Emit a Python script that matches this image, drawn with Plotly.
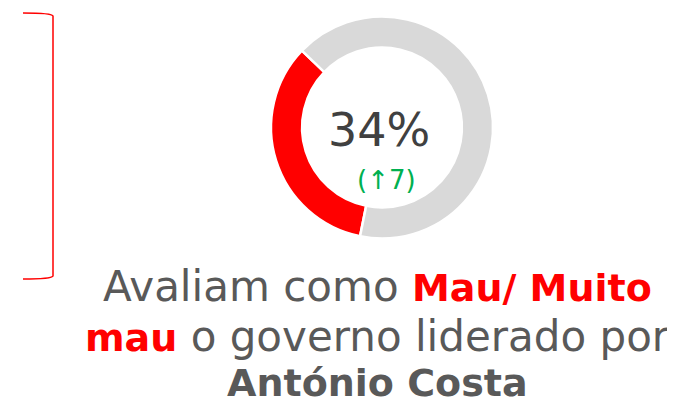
import plotly.graph_objects as go

labels = ["Mau/ Muito mau", "Outros"]
values = [34, 66]
change = 7
colors = ["#FF0000", "#D9D9D9"]

# page has an 8px body margin; the figure fills the rest of the 675x408 window
OFF = 8
W, H = 675 - OFF, 408 - OFF
FONT = "DejaVu Sans"


def px(x):
    return (x - OFF) / W


def py(y):
    return 1 - (y - OFF) / H


fig = go.Figure()
fig.add_trace(go.Pie(
    labels=labels, values=values, hole=0.72, sort=False,
    direction="counterclockwise", rotation=191.4,
    marker=dict(colors=colors, line=dict(color="white", width=2.5)),
    textinfo="none", hoverinfo="label+percent", showlegend=False,
    domain=dict(x=[px(271), px(493)], y=[py(239), py(16)]),
))

# hidden axes expressed in window pixels
fig.update_xaxes(range=[OFF, 675], visible=False, domain=[0, 1])
fig.update_yaxes(range=[408, OFF], visible=False, domain=[0, 1])

pct = round(values[0] / sum(values) * 100)
fig.add_annotation(x=379, y=130, xref="x", yref="y", text=f"{pct}%", showarrow=False,
                   font=dict(family=FONT, size=46, color="#404040"))
fig.add_annotation(x=386, y=180, xref="x", yref="y", text=f"(↑{change})", showarrow=False,
                   font=dict(family=FONT, size=26, color="#00B050"))

red = "#FF0000"
grey = "#595959"
B = "font-size:38px"
lines = [
    (f"Avaliam como <b><span style='color:{red};{B}'>Mau/ Muito</span></b>", 286),
    (f"<b><span style='color:{red};{B}'>mau</span></b> o governo liderado por", 336),
    (f"<b><span style='{B}'>António Costa</span></b>", 383),
]
for t, y in lines:
    fig.add_annotation(x=377, y=y, xref="x", yref="y", text=t, showarrow=False,
                       font=dict(family=FONT, size=42, color=grey))

fig.add_shape(type="path", xref="x", yref="y",
              path="M 23,13 Q 52,13 53,16 L 53,276 Q 52,279 23,279",
              line=dict(color="#FF0000", width=1.5))

fig.update_layout(width=W, height=H, margin=dict(l=0, r=0, t=0, b=0),
                  paper_bgcolor="white", plot_bgcolor="white")
fig.write_html("out.html")
